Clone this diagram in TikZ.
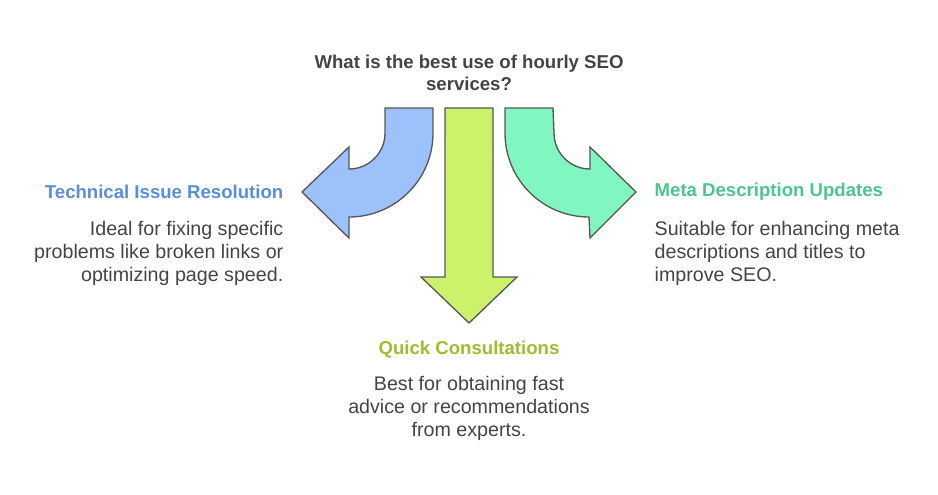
\documentclass[tikz,border=0pt]{standalone}
\usepackage{fontspec}
\setmainfont{Liberation Sans}
\definecolor{bluefill}{HTML}{9DC1FA}
\definecolor{limefill}{HTML}{CCF26C}
\definecolor{mintfill}{HTML}{80F7C1}
\definecolor{bluehead}{HTML}{5A8EDC}
\definecolor{limehead}{HTML}{9DBE2E}
\definecolor{minthead}{HTML}{4CC68C}
\definecolor{darktext}{HTML}{444444}
\tikzset{
  arrowshape/.style={draw=darktext!90, line width=1pt, line join=miter},
  headline/.style={font=\fontsize{14}{16.5}\selectfont\bfseries},
  bodytext/.style={font=\fontsize{14.8}{17.3}\selectfont, text=darktext}
}
\begin{document}
\begin{tikzpicture}[x=0.02646cm, y=-0.02646cm]
  \useasboundingbox (0,0) rectangle (938,494);
  % arrows
  \draw [arrowshape, fill=bluefill] (385,108) -- (433,108) -- (433,133)
    arc[start angle=0, end angle=90, radius=84] -- (349,238) -- (302,192)
    -- (349,147) -- (349,169) arc[start angle=90, end angle=0, radius=36] -- cycle;
  \draw [arrowshape, fill=mintfill] (553,108) -- (505,108) -- (505,133)
    arc[start angle=180, end angle=90, radius=84] -- (590,238) -- (636,192)
    -- (590,147) -- (590,169) arc[start angle=90, end angle=180, radius=36] -- cycle;
  \draw [arrowshape, fill=limefill] (445,108) -- (493,108) -- (493,277) -- (517,277)
    -- (469,323) -- (421,277) -- (445,277) -- cycle;
  % texts
  \node [headline, text=darktext, align=center] (question) at (469,73)
    {What is the best use of hourly SEO\\services?};
  \node [headline, text=bluehead, anchor=east] (technical) at (288,192) {Technical Issue Resolution};
  \node [bodytext, align=right, anchor=north east] (technical_text) at (288,217)
    {Ideal for fixing specific\\problems like broken links or\\optimizing page speed.};
  \node [headline, text=minthead, anchor=west] (meta) at (650,192) {Meta Description Updates};
  \node [bodytext, align=left, anchor=north west] (meta_text) at (650,217)
    {Suitable for enhancing meta\\descriptions and titles to\\improve SEO.};
  \node [headline, text=limehead] (quick) at (469,350) {Quick Consultations};
  \node [bodytext, align=center, anchor=north] (quick_text) at (469,372)
    {Best for obtaining fast\\advice or recommendations\\from experts.};
\end{tikzpicture}
\end{document}
